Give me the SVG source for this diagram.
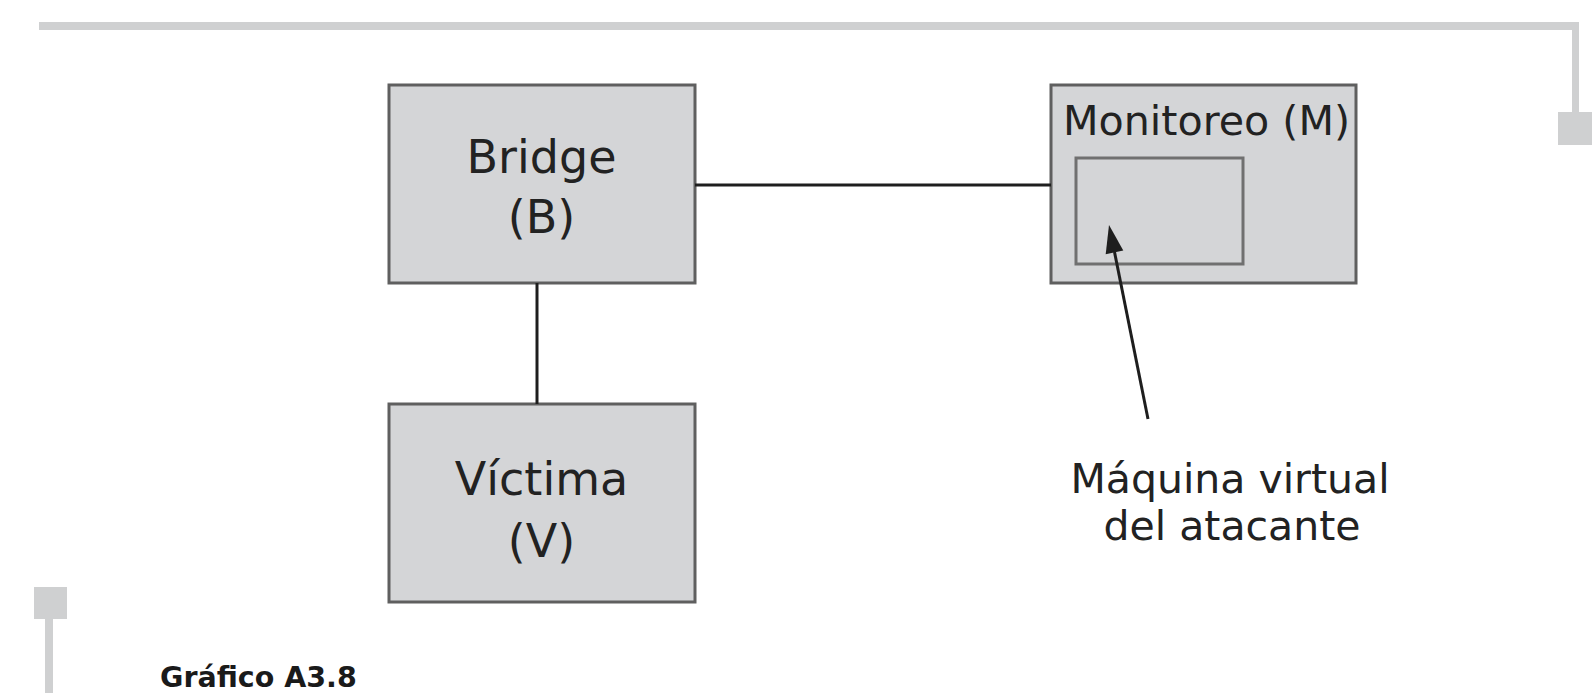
<svg xmlns="http://www.w3.org/2000/svg" width="1595" height="693" viewBox="0 0 1595 693">
  <style>
    .box { fill: #d4d5d7; stroke: #5f5f5f; stroke-width: 3; }
    .inner { fill: #d4d5d7; stroke: #707070; stroke-width: 3; }
    .frame { fill: #cfd0d1; }
    .wire { stroke: #1e1e1e; stroke-width: 3; fill: none; }
    .head { fill: #1e1e1e; }
    .lbl { font-family: "DejaVu Sans", "Liberation Sans", sans-serif; fill: #222; }
    .big { font-size: 46px; text-anchor: middle; }
    .mid { font-size: 41px; }
    .cap { font-family: "DejaVu Sans", "Liberation Sans", sans-serif; font-weight: bold; font-size: 28.5px; fill: #1a1a1a; }
  </style>

  <rect width="1595" height="693" fill="#ffffff"/>

  <!-- page frame decorations -->
  <g id="frame">
    <rect class="frame" x="39" y="22" width="1540" height="8"/>
    <rect class="frame" x="1572" y="22" width="7" height="92"/>
    <rect class="frame" x="1558" y="112" width="34" height="33"/>
    <rect class="frame" x="34" y="587" width="33" height="32"/>
    <rect class="frame" x="45" y="617" width="8" height="76"/>
  </g>

  <g id="node-bridge">
    <rect class="box" x="389" y="85" width="306" height="198"/>
    <text class="lbl big" x="541.5" y="173">Bridge</text>
    <text class="lbl big" x="541.5" y="233">(B)</text>
  </g>

  <g id="node-victima">
    <rect class="box" x="389" y="404" width="306" height="198"/>
    <text class="lbl big" x="541.5" y="495">Víctima</text>
    <text class="lbl big" x="541.5" y="557">(V)</text>
  </g>

  <g id="node-monitoreo">
    <rect class="box" x="1051" y="85" width="305" height="198"/>
    <text class="lbl mid" x="1063" y="135" textLength="287" lengthAdjust="spacingAndGlyphs">Monitoreo (M)</text>
    <rect class="inner" x="1076" y="158" width="167" height="106"/>
  </g>

  <g id="note-vm">
    <text class="lbl mid" x="1230" y="493" text-anchor="middle">Máquina virtual</text>
    <text class="lbl mid" x="1232" y="540" text-anchor="middle">del atacante</text>
  </g>

  <!-- links between machines, and the pointer to the attacker VM -->
  <g id="connectors">
    <line class="wire" x1="695" y1="185" x2="1051" y2="185"/>
    <line class="wire" x1="537" y1="283" x2="537" y2="404"/>
    <line class="wire" x1="1148" y1="419" x2="1114.5" y2="252"/>
    <path class="head" d="M1109,225 L1123.3,250.6 L1105.7,254.2 z"/>
  </g>

  <g id="caption">
    <text class="cap" x="160" y="687">Gráfico A3.8</text>
  </g>
</svg>
